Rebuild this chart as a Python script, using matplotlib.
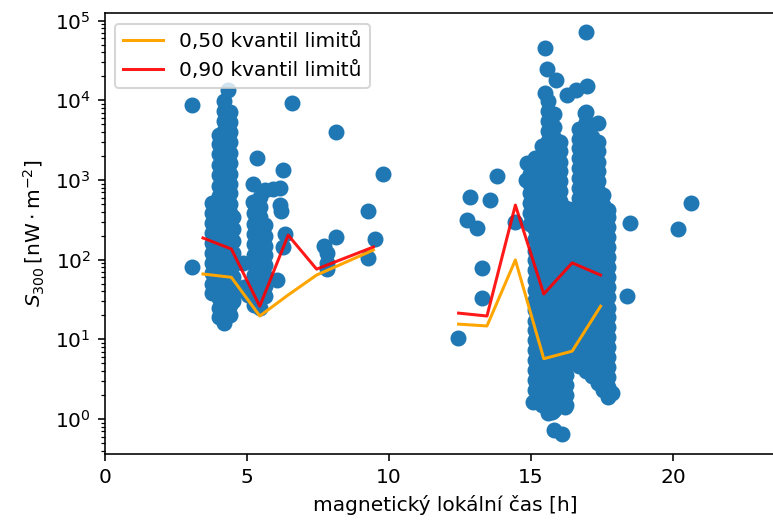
import numpy as np
import matplotlib.pyplot as plt

# kvantily limitů v hodinových binech MLT (NaN odděluje ranní a večerní sektor)
mlt_bin = [3.45, 4.45, 5.45, 6.45, 7.45, 9.45, np.nan,
           12.45, 13.45, 14.45, 15.45, 16.45, 17.45]
q50 = [66, 60, 19.6, 36, 64, 132, np.nan, 15.5, 14.7, 99, 5.7, 7.1, 26]
q90 = [187, 136, 26, 203, 76, 144, np.nan, 21.3, 19.6, 484, 37, 91, 64]

# jednotlivé odlehlé body
mlt_odl = [3.06, 3.06, 4.33, 6.6, 8.13, 9.79, 5.35, 6.27, 5.2, 5.65, 5.9, 6.16,
           5.2, 6.16, 6.2, 9.26, 8.13, 7.7, 9.5, 9.26, 6.34, 6.27, 7.8, 7.82,
           7.8, 6.05, 4.86, 4.75, 4.9, 5.05,
           16.94, 15.49, 15.56, 15.88, 15.5, 16.27, 16.6, 16.97, 16.9, 17.36,
           13.8, 12.85, 13.56, 12.75, 13.1, 14.44, 18.49, 13.27, 13.27, 12.43,
           18.38, 15.74, 15.8, 16.1, 16.2, 17.85, 15.07, 20.18, 20.63,
           14.82, 14.86]
s_odl = [8700, 80, 13400, 9200, 3980, 1190, 1900, 1320, 900, 750, 760, 800,
         530, 480, 410, 405, 193, 150, 180, 104, 210, 144, 121, 92,
         76, 55, 90, 41, 45, 36,
         72000, 45000, 25000, 18000, 12300, 11500, 13400, 15300, 6900, 5200,
         1110, 610, 565, 317, 250, 295, 290, 79, 33, 10.4,
         35, 1.22, 0.73, 0.65, 1.4, 2.1, 1.63, 240, 510,
         1000, 1620]

# husté shluky: poloha MLT a hodnoty S300 ve sloupci
shluky = [
    # ranní sektor
    (3.78, [38, 50, 68, 90, 120, 160, 215, 290, 390, 520]),
    (4.0, [19, 25, 33, 45, 60, 80, 110, 145, 195, 260, 350, 470, 630, 850,
           1150, 1550, 2100, 2800, 3700]),
    (4.2, [16, 21, 28, 37, 50, 67, 90, 120, 160, 215, 290, 390, 520, 700,
           940, 1250, 1700, 2300, 3100, 4100, 5500, 7400, 9800]),
    (4.4, [20, 27, 36, 48, 65, 87, 115, 155, 210, 280, 380, 500, 680, 900,
           1200, 1650, 2200, 3000, 4000, 5400, 7200]),
    (4.52, [30, 42, 60, 85, 120, 170, 240, 340]),
    (5.25, [27, 36, 48, 65, 87, 115, 155, 210, 280, 380, 510]),
    (5.45, [25, 33, 44, 60, 80, 105, 140, 190, 255, 340, 460, 620]),
    (5.62, [35, 47, 63, 85, 115, 150, 200, 270]),
    # večerní sektor
    (14.95, [280, 380, 510, 680, 900, 1200, 1600]),
    (15.15, [1.7, 2.3, 3.1, 4.1, 5.5, 7.3, 9.8, 13, 17, 23, 31, 41, 55, 74,
             100, 130, 180, 240, 320, 420, 560, 750, 1000, 1350, 1900]),
    (15.38, [1.5, 2, 2.7, 3.6, 4.8, 6.4, 8.5, 11, 15, 20, 27, 36, 48, 64, 85,
             115, 150, 200, 270, 360, 480, 640, 850, 1150, 1500, 2000, 2700]),
    (15.6, [1.2, 1.6, 2.1, 2.8, 3.7, 5, 6.7, 9, 12, 16, 21, 28, 38, 50, 67,
            90, 120, 160, 215, 290, 390, 520, 700, 940, 1250, 1700, 2300,
            3100, 4100, 5500, 7400, 9900]),
    (15.82, [1.3, 1.8, 2.4, 3.2, 4.3, 5.8, 7.8, 10.5, 14, 19, 25, 33, 44, 59,
             79, 105, 140, 190, 250, 335, 450, 600, 800, 1070, 1430, 1900,
             2550, 3400, 4600, 6800]),
    (16.02, [1.6, 2.2, 3, 4, 5.3, 7, 9.5, 12.5, 17, 22, 30, 40, 53, 70, 95,
             125, 170, 225, 300, 400, 540, 720, 960, 1300, 1700, 2300, 3000]),
    (16.25, [1.5, 2, 2.7, 3.6, 4.8, 6.4, 8.5, 11.5, 15, 20, 27, 36, 48, 64, 85,
             115, 150, 200, 270, 360, 440]),
    (16.48, [5.5, 7.3, 9.8, 13, 17.5, 23, 31, 41, 55, 74, 100, 135, 180, 240,
             320, 430]),
    (16.7, [4.6, 6.1, 8.1, 10.8, 14.4, 19, 25, 34, 45, 60, 80, 106, 140, 190,
            250, 335, 445, 590, 790, 1050, 1400, 1870, 2500, 3300, 4400]),
    (16.92, [4, 5.3, 7, 9.4, 12.5, 16.7, 22, 30, 40, 53, 71, 95, 126, 170, 225,
             300, 400, 535, 710, 950, 1270, 1700, 2260, 3000, 4000, 5400, 7200]),
    (17.15, [3.5, 4.6, 6.2, 8.2, 11, 14.6, 19.5, 26, 35, 46, 62, 82, 110, 146,
             195, 260, 350, 465, 620, 830, 1100, 1480, 1970, 2600, 3500]),
    (17.35, [2.8, 4, 5.4, 7.2, 9.6, 12.8, 17, 23, 30, 40, 54, 72, 96, 128, 170,
             230, 305, 410, 540, 720, 960, 1280, 1700, 2300, 3000]),
    (17.55, [2.3, 2.7, 3.6, 4.8, 6.4, 8.5, 11.4, 15, 20, 27, 36, 48, 64, 85,
             114, 150, 200, 270, 360, 480, 640]),
    (17.72, [1.9, 2.5, 3.4, 4.5, 6, 8, 10.7, 14.3, 19, 25, 34, 45, 60, 80, 107,
             143, 190, 255, 340, 420]),
]

mlt = list(mlt_odl)
s300 = list(s_odl)
for x, hodnoty in shluky:
    mlt += [x] * len(hodnoty)
    s300 += hodnoty

DPI = 145
fig = plt.figure(figsize=(773 / DPI, 521 / DPI), dpi=DPI)
ax = fig.add_axes([0.1358, 0.1286, 0.8818, 0.8455])

ax.scatter(mlt, s300, s=48, color="C0")
ax.plot(mlt_bin, q50, color="orange", label="0,50 kvantil limitů")
ax.plot(mlt_bin, q90, color="red", alpha=0.9, label="0,90 kvantil limitů")

ax.set_yscale("log")
ax.set_xlim(0, 24)
ax.set_ylim(0.363, 1.23e5)
ax.set_xticks([0, 5, 10, 15, 20])
ax.set_xlabel("magnetický lokální čas [h]")
ax.set_ylabel(r"$S_{300}\,[\mathrm{nW}\cdot\mathrm{m}^{-2}]$")
ax.legend(loc="upper left")

fig.savefig("out.png", dpi=DPI)
